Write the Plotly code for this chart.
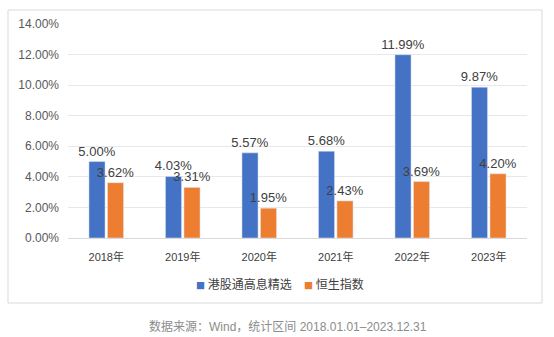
import plotly.graph_objects as go

categories = ["2018年", "2019年", "2020年", "2021年", "2022年", "2023年"]
fund_values = [5.00, 4.03, 5.57, 5.68, 11.99, 9.87]
hsi_values = [3.62, 3.31, 1.95, 2.43, 3.69, 4.20]
series_names = ["港股通高息精选", "恒生指数"]
series_colors = ["#4472C4", "#ED7D31"]
tick_vals = [0, 2, 4, 6, 8, 10, 12, 14]
tick_text = ["0.00%", "2.00%", "4.00%", "6.00%", "8.00%", "10.00%", "12.00%", "14.00%"]
footer = "数据来源：Wind，统计区间 2018.01.01–2023.12.31"

FONT = "Liberation Sans, Arial, Noto Sans CJK SC, sans-serif"
CJK = "Liberation Sans, Noto Sans CJK SC, sans-serif"

fig = go.Figure()
for name, vals, col in zip(series_names, [fund_values, hsi_values], series_colors):
    fig.add_trace(go.Bar(x=categories, y=vals, name=name,
                         marker=dict(color=col), showlegend=False,
                         texttemplate="%{y:.2f}%", textposition="outside",
                         constraintext="none", cliponaxis=False,
                         textfont=dict(size=13, color="#404040", family=FONT)))

W, H = 554, 337
L, R, T, B = 68, 27, 24, 99
pw = W - L - R
ph = H - T - B

def px(x):
    return (x - L) / pw

def py(y):
    return (H - B - y) / ph

legend_x = [194, 302]
annotations = [dict(text=footer, xref="paper", yref="paper", x=px(287.5), y=py(326),
                    xanchor="center", yanchor="middle", showarrow=False,
                    font=dict(size=12, color="#8c8c8c", family=CJK))]
for name, col, lx in zip(series_names, series_colors, legend_x):
    annotations.append(dict(
        text=f"<span style='color:{col};font-size:9px'>■</span> {name}",
        xref="paper", yref="paper", x=px(lx), y=py(283),
        xanchor="left", yanchor="middle", showarrow=False,
        font=dict(size=12, color="#404040", family="Noto Sans CJK SC, sans-serif")))

fig.update_layout(
    width=W, height=H,
    margin=dict(l=L, r=R, t=T, b=B),
    paper_bgcolor="white", plot_bgcolor="white",
    barmode="group", bargap=0.516, bargroupgap=0.13,
    font=dict(family=FONT, color="#595959", size=12),
    showlegend=False,
    xaxis=dict(showgrid=False, showline=True, linecolor="#d9d9d9", linewidth=1,
               ticks="", ticklabelstandoff=9,
               tickfont=dict(size=11, color="#404040", family=CJK)),
    yaxis=dict(range=[0, 14], tickvals=tick_vals, ticktext=tick_text,
               showgrid=True, gridcolor="#e8e8e8", gridwidth=1, zeroline=False,
               ticks="", ticklabelstandoff=8,
               tickfont=dict(size=12, color="#595959", family=FONT)),
    shapes=[dict(type="rect", xref="paper", yref="paper",
                 x0=px(8), x1=px(542), y0=py(303), y1=py(10),
                 line=dict(color="#d9d9d9", width=1), fillcolor="rgba(0,0,0,0)", layer="below")],
    annotations=annotations,
)

fig.write_html("out.html")
